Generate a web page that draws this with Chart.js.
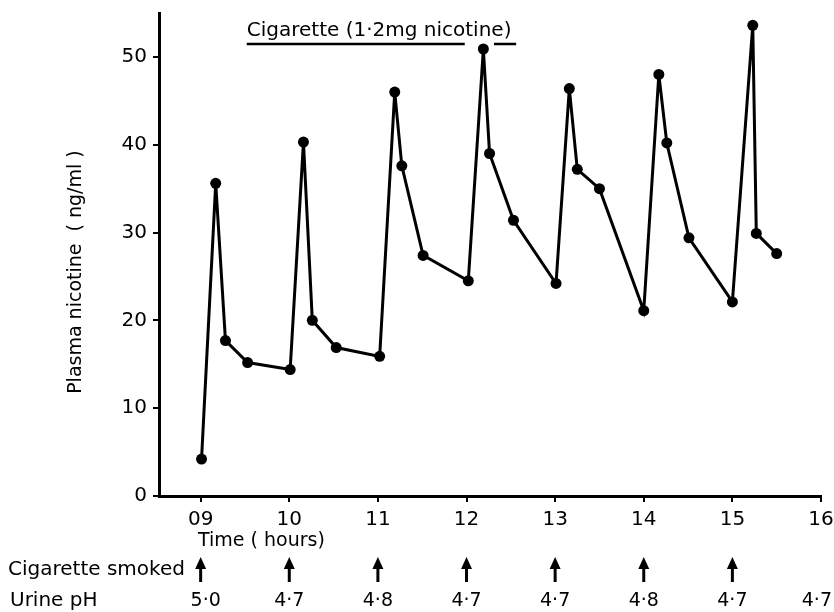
<!DOCTYPE html>
<html>
<head>
<meta charset="utf-8">
<script src="https://cdn.jsdelivr.net/npm/chart.js@4.4.0/dist/chart.umd.min.js"></script>
<style>
  html, body { margin: 0; padding: 0; background: #fff; }
  #wrap { width: 834px; height: 612px; position: relative; }
</style>
</head>
<body>
<div id="wrap"><canvas id="chartNicotine"></canvas></div>
<script>
// sample times (hours of day) and plasma nicotine (ng/ml)
const sampleTimes = [9.01, 9.17, 9.28, 9.53, 10.01, 10.16, 10.26, 10.53, 11.02, 11.19, 11.27, 11.51,
  12.02, 12.19, 12.26, 12.53, 13.01, 13.16, 13.25, 13.5, 14.0, 14.17, 14.26, 14.51, 15.0, 15.23, 15.27, 15.5];
const nicotine = [4.2, 35.6, 17.7, 15.2, 14.4, 40.3, 20.0, 16.9, 15.9, 46.0, 37.6, 27.4,
  24.5, 50.9, 39.0, 31.4, 24.2, 46.4, 37.2, 35.0, 21.1, 48.0, 40.2, 29.4, 22.1, 53.6, 29.9, 27.6];

// x tick hours and labels
const hourTicks = [9, 10, 11, 12, 13, 14, 15, 16];
const hourLabels = ['09', '10', '11', '12', '13', '14', '15', '16'];
const yTicks = [0, 10, 20, 30, 40, 50];

// cigarette times and urine pH readings
const smokedHours = [9, 10, 11, 12, 13, 14, 15];
const phHours = [9, 10, 11, 12, 13, 14, 15, 16];
const urinePH = ['5·0', '4·7', '4·8', '4·7', '4·7', '4·8', '4·7', '4·7'];

const FONT = '"DejaVu Sans", sans-serif';

/**
 * Extra text: heading, axis titles, smoked arrows, pH row
 */
const annotations = {
  id: 'annotations',
  afterDraw(chart) {
    const ctx = chart.ctx;
    const xs = chart.scales.x;
    const ys = chart.scales.y;
    ctx.save();
    ctx.fillStyle = '#000';
    ctx.strokeStyle = '#000';

    // heading with underline
    ctx.font = '20px ' + FONT;
    ctx.textAlign = 'left';
    ctx.textBaseline = 'alphabetic';
    const hx = xs.getPixelForValue(9.52);
    ctx.fillText('Cigarette (1·2mg nicotine)', hx, 36);
    ctx.lineWidth = 2.5;
    ctx.beginPath();
    ctx.moveTo(hx, 44);
    ctx.lineTo(xs.getPixelForValue(11.98), 44);
    ctx.moveTo(xs.getPixelForValue(12.31), 44);
    ctx.lineTo(xs.getPixelForValue(12.56), 44);
    ctx.stroke();

    // y title
    ctx.save();
    ctx.font = '19px ' + FONT;
    ctx.textAlign = 'center';
    ctx.textBaseline = 'middle';
    ctx.translate(76, ys.getPixelForValue(25.5));
    ctx.rotate(-Math.PI / 2);
    ctx.fillText('Plasma nicotine  ( ng/ml )', 0, 0);
    ctx.restore();

    // x title
    ctx.font = '19px ' + FONT;
    ctx.textAlign = 'left';
    ctx.textBaseline = 'middle';
    ctx.fillText('Time ( hours)', xs.getPixelForValue(8.97), 541);

    // row labels
    ctx.font = '20px ' + FONT;
    ctx.fillText('Cigarette smoked', 8, 570);
    ctx.fillText('Urine pH', 10, 601);

    // cigarette smoked arrows
    smokedHours.forEach(h => {
      const px = xs.getPixelForValue(h);
      ctx.lineWidth = 3;
      ctx.beginPath();
      ctx.moveTo(px, 582);
      ctx.lineTo(px, 566);
      ctx.stroke();
      ctx.beginPath();
      ctx.moveTo(px, 557);
      ctx.lineTo(px - 5.5, 569);
      ctx.lineTo(px + 5.5, 569);
      ctx.closePath();
      ctx.fill();
    });

    // urine pH row
    ctx.font = '19px ' + FONT;
    ctx.textAlign = 'center';
    phHours.forEach((h, i) => {
      let px = xs.getPixelForValue(h);
      const half = ctx.measureText(urinePH[i]).width / 2;
      if (px + half > chart.width - 2) px = chart.width - 2 - half;
      ctx.fillText(urinePH[i], px + (i === 0 ? 5 : 0), 601);
    });
    ctx.restore();
  }
};

const ctx = document.getElementById('chartNicotine').getContext('2d');

const chart = new Chart(ctx, {
  type: 'line',
  data: {
    datasets: [{
      label: 'Plasma nicotine',
      data: sampleTimes.map((t, i) => ({ x: t, y: nicotine[i] })),
      borderColor: '#000',
      backgroundColor: '#000',
      borderWidth: 3,
      pointRadius: 5.5,
      pointBackgroundColor: '#000',
      pointBorderWidth: 0,
      tension: 0
    }]
  },
  options: {
    responsive: true,
    maintainAspectRatio: false,
    animation: false,
    layout: { padding: { top: 13, right: 13, left: 0, bottom: 0 } },
    plugins: {
      legend: { display: false },
      tooltip: { enabled: false }
    },
    scales: {
      x: {
        type: 'linear',
        min: 8.53,
        max: 16,
        afterBuildTicks: s => { s.ticks = hourTicks.map(v => ({ value: v })); },
        afterFit: s => { s.height = 116; s.paddingRight = 0; s.paddingLeft = 0; },
        ticks: {
          color: '#000',
          font: { family: FONT, size: 20 },
          padding: 6,
          maxRotation: 0,
          callback: v => hourLabels[hourTicks.indexOf(v)]
        },
        grid: { drawOnChartArea: false, tickLength: 6, color: '#000', lineWidth: 2 },
        border: { color: '#000', width: 3 }
      },
      y: {
        min: 0,
        max: 55,
        afterBuildTicks: s => { s.ticks = yTicks.map(v => ({ value: v })); },
        afterFit: s => { s.width = 159; s.paddingTop = 0; s.paddingBottom = 0; },
        ticks: {
          color: '#000',
          font: { family: FONT, size: 20 },
          padding: 6
        },
        grid: { drawOnChartArea: false, tickLength: 6, color: '#000', lineWidth: 2 },
        border: { color: '#000', width: 3 }
      }
    }
  },
  plugins: [annotations]
});
</script>
</body>
</html>
